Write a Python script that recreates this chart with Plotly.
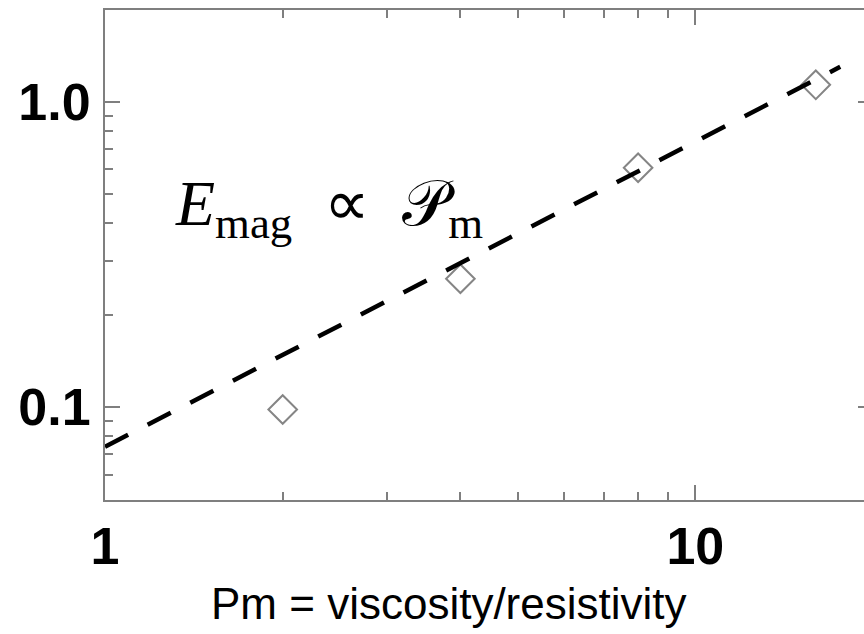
import numpy as np
import plotly.graph_objects as go

# Magnetic energy vs magnetic Prandtl number
pm = [2, 4, 8, 16]
e_mag = [0.098, 0.263, 0.608, 1.137]

# Linear scaling guide E_mag ~ Pm
fit_pm = [1.0, 17.6]
fit_e = [0.074, 1.302]

x_major = [1, 10]
x_major_text = ["1", "10"]
x_minor = [2, 3, 4, 5, 6, 7, 8, 9]
y_major = [0.1, 1.0]
y_major_text = ["0.1", "1.0"]
y_minor = [0.06, 0.07, 0.08, 0.09, 0.2, 0.3, 0.4, 0.5, 0.6, 0.7, 0.8, 0.9]

x_range = [0, np.log10(20)]
y_range = [np.log10(0.0495), np.log10(2.0)]
axis_color = "#7f7f7f"

fig = go.Figure()
fig.add_trace(go.Scatter(
    x=pm, y=e_mag, mode="markers",
    marker=dict(symbol="diamond-open", size=22, color="#858585",
                line=dict(width=2, color="#858585")),
    showlegend=False,
))
fig.add_trace(go.Scatter(
    x=fit_pm, y=fit_e, mode="lines",
    line=dict(color="black", width=4.5, dash="26px,22px"),
    showlegend=False,
))

common = dict(
    showline=True, linecolor=axis_color, linewidth=2,
    ticks="inside", tickcolor=axis_color, tickwidth=2, ticklen=15,
    showgrid=False, zeroline=False,
    tickfont=dict(family="Liberation Sans", size=52, color="black", weight="bold"),
)

fig.update_xaxes(
    type="log", range=x_range,
    tickmode="array", tickvals=x_major, ticktext=x_major_text,
    mirror="ticks", ticklabelstandoff=0,
    minor=dict(tickmode="array", tickvals=x_minor, ticks="inside",
               ticklen=8, tickwidth=2, tickcolor=axis_color, showgrid=False),
    **common,
)
fig.update_yaxes(
    type="log", range=y_range, mirror="ticks",
    tickmode="array", tickvals=y_major, ticktext=y_major_text,
    ticklabelstandoff=2,
    minor=dict(tickmode="array", tickvals=y_minor, ticks="inside",
               ticklen=8, tickwidth=2, tickcolor=axis_color, showgrid=False),
    **common,
)

fig.add_annotation(
    x=np.log10(2.4), y=np.log10(0.449), xref="x", yref="y",
    text="<i>E</i><sub>mag</sub>\u2002∝\u2002𝒫<sub>m</sub>",
    showarrow=False, xanchor="center", yanchor="middle",
    font=dict(family="Liberation Serif", size=64, color="black"),
)
fig.add_annotation(
    x=0.448, y=-0.212, xref="paper", yref="paper",
    text="Pm = viscosity/resistivity",
    showarrow=False, xanchor="center", yanchor="middle",
    font=dict(family="Liberation Sans", size=44, color="black"),
)

# The frame's right edge sits just past the 864 px view
fig.update_layout(
    width=876, height=634,
    margin=dict(l=105, r=1, t=10, b=134),
    paper_bgcolor="white", plot_bgcolor="white",
)

fig.write_html("out.html")
